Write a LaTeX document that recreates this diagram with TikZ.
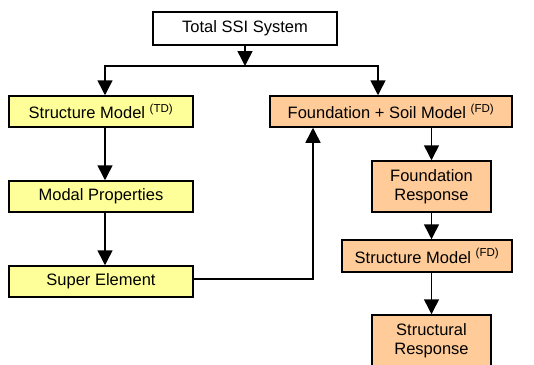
\documentclass[tikz,border=0pt]{standalone}
\usepackage{fontspec}
\setmainfont{Liberation Sans}
\usetikzlibrary{arrows.meta}
\definecolor{TDBoxColor}{RGB}{255,255,153}
\definecolor{FDBoxColor}{RGB}{255,204,153}

\begin{document}
\begin{tikzpicture}[x=1pt,y=-1pt,
  box/.style n args={3}{draw,line width=1.5pt,fill=#1,minimum width=#2pt,minimum height=#3pt,inner sep=0pt,align=center,font=\fontsize{16.5}{19}\selectfont},
  arr/.style={line width=1.5pt,-{Triangle[width=15pt,length=15pt]}}]
\clip (0,0) rectangle (534,364);
\node[box={white}{184}{33}](total) at(245,28.5) {Total SSI System};
\node[box={TDBoxColor}{184}{31}](smtd) at(101,111.5) {Structure Model \textsuperscript{(TD)}};
\node[box={FDBoxColor}{242}{31}](fsm) at(391,111.5) {Foundation + Soil Model \textsuperscript{(FD)}};
\node[box={TDBoxColor}{184}{31}](modal) at(101,196.5) {Modal Properties};
\node[box={TDBoxColor}{184}{31}](super) at(101,281.5) {Super Element};
\node[box={FDBoxColor}{119}{51}](frsp) at(431.5,186.5) {Foundation\\Response};
\node[box={FDBoxColor}{170}{32}](smfd) at(427,256) {Structure Model \textsuperscript{(FD)}};
\node[box={FDBoxColor}{119}{51}](srsp) at(431.5,340.5) {Structural\\Response};
\coordinate (split) at (245,66);
\coordinate (lft) at (105,66);
\coordinate (rgt) at (378,66);
\coordinate (back) at (313,279);
\draw[arr] (total) -- (split);
\draw[arr] (split) -| (lft |- smtd.north);
\draw[arr] (split) -| (rgt |- fsm.north);
\draw[arr] (lft |- smtd.south) -- (lft |- modal.north);
\draw[arr] (lft |- modal.south) -- (lft |- super.north);
\draw[arr] (super.east |- back) -- (back) -- (back |- fsm.south);
\draw[arr] (frsp.north |- fsm.south) -- (frsp.north);
\draw[arr] (frsp.south) -- (frsp.south |- smfd.north);
\draw[arr] (srsp.north |- smfd.south) -- (srsp.north);
\end{tikzpicture}
\end{document}
